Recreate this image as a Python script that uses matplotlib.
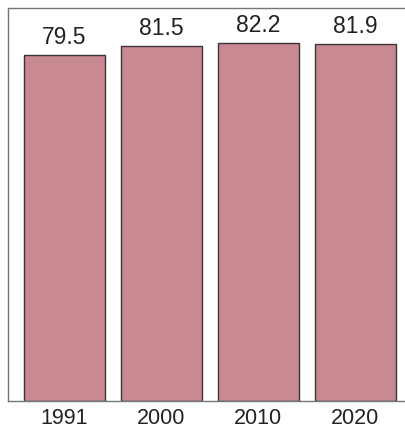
import matplotlib.pyplot as plt

years = ['1991', '2000', '2010', '2020']
values = [79.5, 81.5, 82.2, 81.9]

fig = plt.figure(figsize=(4.06, 4.29), dpi=100)
ax = fig.add_axes([8 / 406, 28 / 429, 403.5 / 406, 393 / 429])

x = range(len(years))
ax.bar(x, values, width=0.835, color='#c98993', edgecolor='#3a3434', linewidth=1.0)

for i, v in enumerate(values):
    ax.text(i, v + 1.3, f'{v:.1f}', ha='center', va='bottom',
            fontsize=16.5, color='#222222', family='Liberation Sans')

ax.set_xlim(-0.58, 3.58)
ax.set_ylim(0, 90.2)
ax.set_xticks(list(x))
ax.set_xticklabels(years, fontsize=15.5, color='#222222', family='Liberation Sans')
ax.tick_params(axis='x', length=0, pad=5)
ax.set_yticks([])

ax.spines['right'].set_visible(False)
for side in ['left', 'top', 'bottom']:
    ax.spines[side].set_color('#6f7a78')
    ax.spines[side].set_linewidth(1.0)

fig.savefig('out.png', dpi=100)
